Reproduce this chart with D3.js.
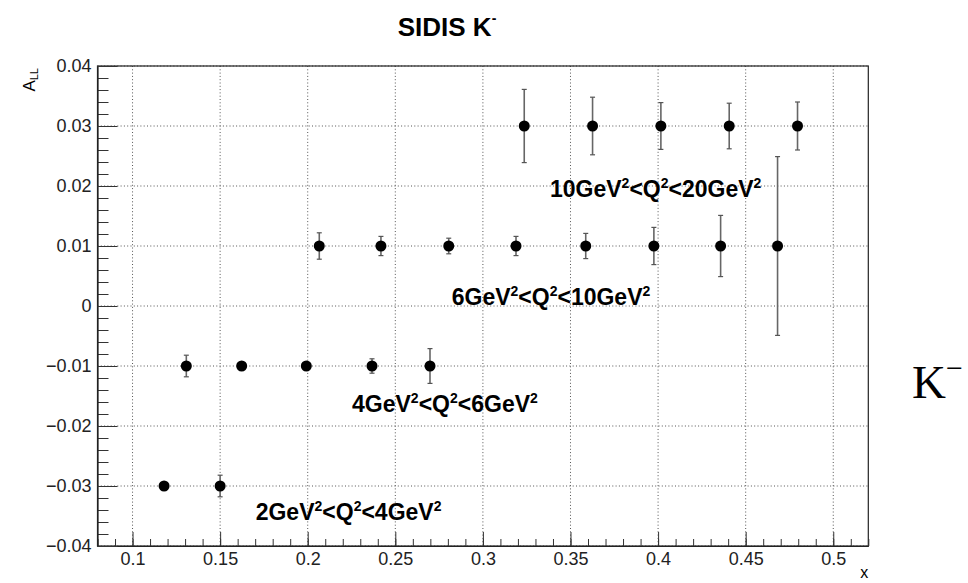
<!DOCTYPE html>
<html>
<head>
<meta charset="utf-8">
<script src="https://cdn.jsdelivr.net/npm/d3@7"></script>
<style>
  body { margin: 0; background: #fff; }
  svg { display: block; font-family: 'Liberation Sans', Arial, sans-serif; }
</style>
</head>
<body>
<div id="chart"></div>
<script>
// values: x, A_LL and the error for each Q^2 bin
const q2Bins = ['2-4', '4-6', '6-10', '10-20'];

const x2to4 = [0.118, 0.150];
const all2to4 = [-0.03, -0.03];
const err2to4 = [0.0004, 0.0018];

const x4to6 = [0.1307, 0.1623, 0.1992, 0.2367, 0.2698];
const all4to6 = [-0.01, -0.01, -0.01, -0.01, -0.01];
const err4to6 = [0.0018, 0.0004, 0.0004, 0.0012, 0.0029];

const x6to10 = [0.2066, 0.2418, 0.2805, 0.3189, 0.3587, 0.3976, 0.4357, 0.4682];
const all6to10 = [0.01, 0.01, 0.01, 0.01, 0.01, 0.01, 0.01, 0.01];
const err6to10 = [0.0022, 0.0016, 0.0013, 0.0016, 0.0021, 0.0031, 0.0051, 0.0149];

const x10to20 = [0.3236, 0.3626, 0.4016, 0.4406, 0.4796];
const all10to20 = [0.03, 0.03, 0.03, 0.03, 0.03];
const err10to20 = [0.0061, 0.0048, 0.0039, 0.0038, 0.0040];

const xTicks = [0.1, 0.15, 0.2, 0.25, 0.3, 0.35, 0.4, 0.45, 0.5];
const yTicks = [-0.04, -0.03, -0.02, -0.01, 0, 0.01, 0.02, 0.03, 0.04];

const width = 968;
const height = 583;
const margin = { top: 66, right: 100, bottom: 37, left: 97.5 };
const plotW = 868.3 - margin.left;
const plotH = height - margin.top - margin.bottom;

const x = d3.scaleLinear().domain([0.08, 0.52]).range([0, plotW]);
const y = d3.scaleLinear().domain([-0.04, 0.04]).range([plotH, 0]);

const svg = d3.select('#chart').append('svg')
  .attr('width', width)
  .attr('height', height);

const g = svg.append('g')
  .attr('transform', `translate(${margin.left},${margin.top})`);

// dotted grid at the major ticks
g.append('g').selectAll('line')
  .data(xTicks)
  .enter().append('line')
    .attr('x1', d => x(d)).attr('x2', d => x(d))
    .attr('y1', 0).attr('y2', plotH)
    .attr('stroke', '#555')
    .attr('stroke-dasharray', '1,2.3');

g.append('g').selectAll('line')
  .data(yTicks)
  .enter().append('line')
    .attr('x1', 0).attr('x2', plotW)
    .attr('y1', d => y(d)).attr('y2', d => y(d))
    .attr('stroke', '#555')
    .attr('stroke-dasharray', '1,2.3');

// frame
g.append('rect')
  .attr('width', plotW)
  .attr('height', plotH)
  .attr('fill', 'none')
  .attr('stroke', '#222')
  .attr('stroke-width', 1.2);

// ROOT style axes: ticks inside the frame
const fmt = d3.format('~g');
const xMinor = d3.range(8, 53).map(i => i / 100);
const yMinor = d3.range(-20, 21).map(i => i / 500);

g.append('g')
    .attr('transform', `translate(0,${plotH})`)
    .call(d3.axisBottom(x).tickValues(xMinor).tickSize(-7).tickFormat(''))
    .call(a => a.select('.domain').remove());

g.append('g')
    .attr('class', 'axis axis--x')
    .attr('transform', `translate(0,${plotH})`)
    .call(d3.axisBottom(x).tickValues(xTicks).tickSizeInner(-14).tickSizeOuter(0)
      .tickPadding(6).tickFormat(fmt))
    .call(a => a.select('.domain').attr('stroke', '#222').attr('stroke-width', 1.2))
  .selectAll('text')
    .style('font-size', '18px')
    .attr('fill', '#222');

g.append('g')
    .call(d3.axisLeft(y).tickValues(yMinor).tickSize(-11).tickFormat(''))
    .call(a => a.select('.domain').remove());

g.append('g')
    .attr('class', 'axis axis--y')
    .call(d3.axisLeft(y).tickValues(yTicks).tickSizeInner(-20).tickSizeOuter(0)
      .tickPadding(6).tickFormat(fmt))
    .call(a => a.select('.domain').attr('stroke', '#222').attr('stroke-width', 1.2))
  .selectAll('text')
    .style('font-size', '18px')
    .attr('fill', '#222');

g.selectAll('.tick line').attr('stroke', '#333');

// axis titles
g.append('text')
  .attr('x', plotW)
  .attr('y', plotH + 32)
  .attr('text-anchor', 'end')
  .style('font-size', '16px')
  .text('x');

const yTitle = g.append('text')
  .attr('transform', `translate(${35 - margin.left},2) rotate(-90)`)
  .attr('text-anchor', 'end')
  .style('font-size', '17px');
yTitle.append('tspan').text('A');
yTitle.append('tspan').attr('dy', 3).style('font-size', '11px').text('LL');

// points with error bars
const series = [
  { key: q2Bins[0], xs: x2to4, ys: all2to4, es: err2to4 },
  { key: q2Bins[1], xs: x4to6, ys: all4to6, es: err4to6 },
  { key: q2Bins[2], xs: x6to10, ys: all6to10, es: err6to10 },
  { key: q2Bins[3], xs: x10to20, ys: all10to20, es: err10to20 },
];
const points = [];
series.forEach((s) => {
  s.xs.forEach((v, i) => points.push({ bin: s.key, x: v, y: s.ys[i], e: s.es[i] }));
});

const pts = g.append('g').selectAll('g')
  .data(points)
  .enter().append('g');

pts.append('line')
  .attr('x1', d => x(d.x)).attr('x2', d => x(d.x))
  .attr('y1', d => y(d.y + d.e)).attr('y2', d => y(d.y - d.e))
  .attr('stroke', '#666')
  .attr('stroke-width', 1.6);

pts.selectAll('.cap')
  .data(d => [d.y + d.e, d.y - d.e].map(v => ({ x: d.x, v })))
  .enter().append('line')
    .attr('class', 'cap')
    .attr('x1', d => x(d.x) - 2.5).attr('x2', d => x(d.x) + 2.5)
    .attr('y1', d => y(d.v)).attr('y2', d => y(d.v))
    .attr('stroke', '#555')
    .attr('stroke-width', 1.2);

pts.append('circle')
  .attr('cx', d => x(d.x))
  .attr('cy', d => y(d.y))
  .attr('r', 5.5)
  .attr('fill', '#000');

// Q^2 range labels
const labels = [
  { lo: '10', hi: '20', at: [0.3383, 0.0182] },
  { lo: '6', hi: '10', at: [0.2822, 0.0002] },
  { lo: '4', hi: '6', at: [0.2253, -0.0176] },
  { lo: '2', hi: '4', at: [0.1703, -0.0357] },
];

labels.forEach((l) => {
  const t = g.append('text')
    .attr('x', x(l.at[0]))
    .attr('y', y(l.at[1]))
    .style('font-size', '23px')
    .style('font-weight', 'bold');
  const parts = [[`${l.lo}GeV`, 0], ['2', 1], ['<Q', 0], ['2', 1], [`<${l.hi}GeV`, 0], ['2', 1]];
  let lift = 0;
  parts.forEach((p) => {
    const want = p[1] ? -9 : 0;
    t.append('tspan')
      .attr('dy', want - lift)
      .style('font-size', p[1] ? '14px' : null)
      .text(p[0]);
    lift = want;
  });
});

// title
const title = svg.append('text')
  .attr('x', 447)
  .attr('y', 36)
  .attr('text-anchor', 'middle')
  .style('font-size', '26px')
  .style('font-weight', 'bold');
title.append('tspan').text('SIDIS K');
title.append('tspan').attr('dy', -13).style('font-size', '14px').text('-');

// particle tag on the right
const tag = svg.append('text')
  .attr('x', 912)
  .attr('y', 398)
  .style('font-family', "'Liberation Serif', 'Times New Roman', serif")
  .style('font-size', '47px');
tag.append('tspan').text('K');
tag.append('tspan').attr('dy', -20).style('font-size', '30px').text('\u2212');
</script>
</body>
</html>
